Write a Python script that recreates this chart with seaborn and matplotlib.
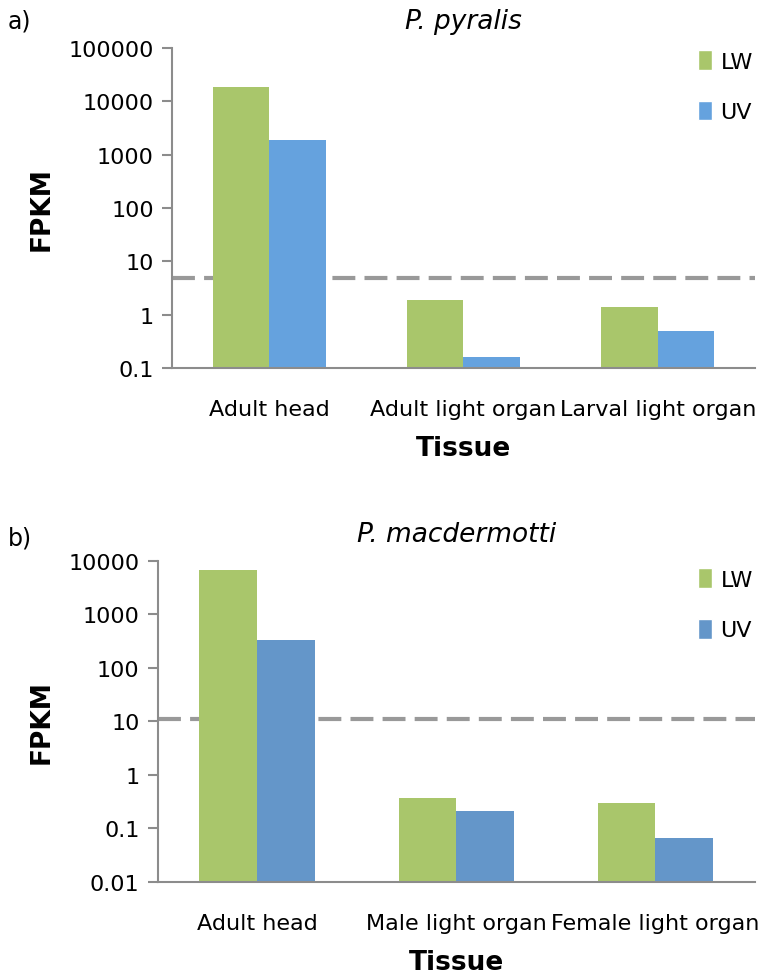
import pandas as pd
import numpy as np
import matplotlib
matplotlib.use('Agg')
import matplotlib.pyplot as plt
import matplotlib.ticker as mticker
from matplotlib.patches import Patch
import seaborn as sns

# values (FPKM, log scale)
series = ['LW', 'UV']
tissues_a = ['Adult head', 'Adult light organ', 'Larval light organ']
lw_a = [18300, 1.88, 1.41]
uv_a = [1880, 0.158, 0.50]
cutoff_a = 4.9
yticks_a = [0.1, 1, 10, 100, 1000, 10000, 100000]

tissues_b = ['Adult head', 'Male light organ', 'Female light organ']
lw_b = [6890, 0.366, 0.304]
uv_b = [329, 0.209, 0.0664]
cutoff_b = 11
yticks_b = [0.01, 0.1, 1, 10, 100, 1000, 10000]

sns.set_style('white')
plt.rcParams['font.family'] = ['DejaVu Sans']
plt.rcParams['text.color'] = 'black'
plt.rcParams['axes.labelcolor'] = 'black'
plt.rcParams['xtick.labelcolor'] = 'black'
plt.rcParams['ytick.labelcolor'] = 'black'

GREEN = '#a9c66b'
AXIS_GREY = '#8c8c8c'


def make_df(tissues, lw, uv):
    df = pd.DataFrame({'Tissue': tissues * 2,
                       'Series': ['LW'] * len(tissues) + ['UV'] * len(tissues),
                       'FPKM': lw + uv})
    return df


def draw_panel(ax, tissues, lw, uv, cutoff, yticks, blue, title, leg_y):
    df = make_df(tissues, lw, uv)
    ax.set_yscale('log')
    ax.axhline(cutoff, color='#999999', lw=3, dashes=(5.5, 2.2), zorder=1)
    sns.barplot(data=df, x='Tissue', y='FPKM', hue='Series', order=tissues,
                hue_order=series, palette=[GREEN, blue], width=0.58, gap=0,
                errorbar=None, saturation=1, ax=ax, legend=False, zorder=2,
                linewidth=0)
    ax.set_ylim(yticks[0], yticks[-1])
    ax.set_xlim(-0.5, 2.5)
    ax.yaxis.set_major_locator(mticker.FixedLocator(yticks))
    ax.yaxis.set_major_formatter(mticker.FuncFormatter(lambda v, p: '%g' % v))
    ax.yaxis.set_minor_locator(mticker.NullLocator())
    ax.xaxis.set_minor_locator(mticker.FixedLocator([-0.5, 0.5, 1.5, 2.5]))
    ax.tick_params(axis='x', which='major', length=0, pad=22, labelsize=16)
    ax.tick_params(axis='x', which='minor', length=8, width=1.5, color=AXIS_GREY, direction='out')
    ax.tick_params(axis='y', which='major', length=7, width=1.5, color=AXIS_GREY,
                   direction='out', left=True, labelsize=16, pad=6)
    for s in ['top', 'right']:
        ax.spines[s].set_visible(False)
    for s in ['left', 'bottom']:
        ax.spines[s].set_color(AXIS_GREY)
        ax.spines[s].set_linewidth(1.5)
    ax.set_xlabel('Tissue', fontsize=19, fontweight='bold', labelpad=12)
    ax.set_ylabel('FPKM', fontsize=19, fontweight='bold', labelpad=10)
    ax.set_title(title, fontsize=19, style='italic', pad=14)
    handles = [Patch(facecolor=GREEN, label='LW'), Patch(facecolor=blue, label='UV')]
    ax.legend(handles=handles, loc='upper right', bbox_to_anchor=(1.0, leg_y), frameon=False,
              fontsize=16, handlelength=0.6, handleheight=1.0, handletextpad=0.4,
              labelspacing=1.3, borderpad=0.1, borderaxespad=0)
    return ax


fig = plt.figure(figsize=(7.62, 9.79), dpi=100)
ax_a = fig.add_axes([0.2257, 0.6231, 0.7651, 0.327])
ax_b = fig.add_axes([0.2068, 0.0981, 0.7840, 0.328])

draw_panel(ax_a, tissues_a, lw_a, uv_a, cutoff_a, yticks_a, '#65a2de', 'P. pyralis', 1.0)
draw_panel(ax_b, tissues_b, lw_b, uv_b, cutoff_b, yticks_b, '#6496c9', 'P. macdermotti', 0.984)

fig.text(0.01, 0.978, 'a)', fontsize=17, va='center')
fig.text(0.01, 0.45, 'b)', fontsize=17, va='center')

fig.savefig('out.png', dpi=100)
